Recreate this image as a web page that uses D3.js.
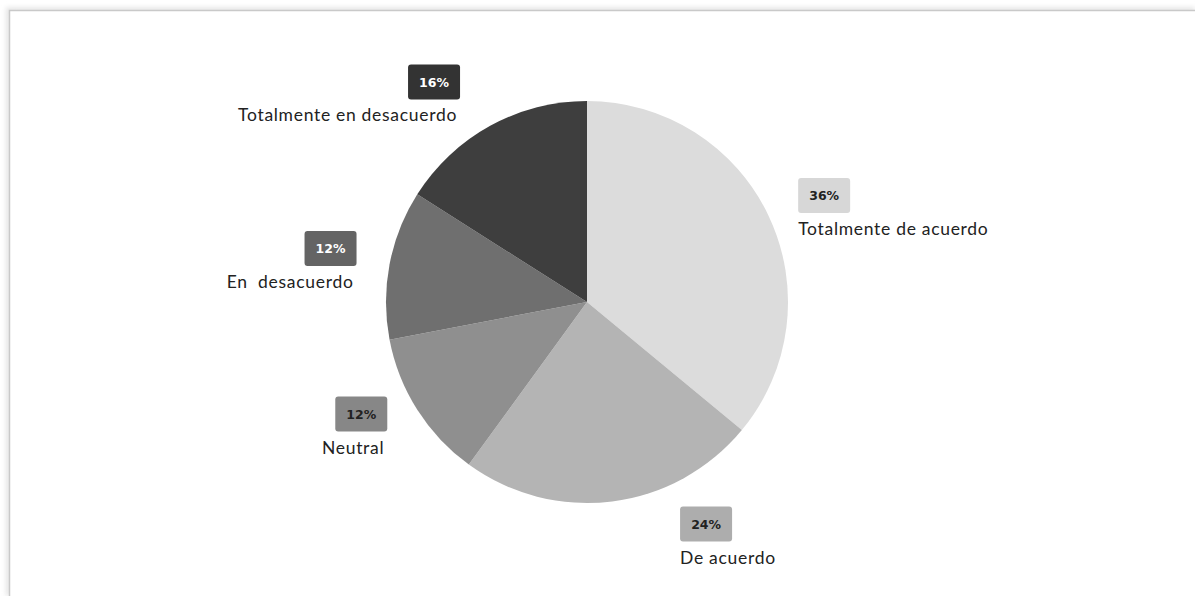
<!DOCTYPE html>
<html>
<head>
<meta charset="utf-8">
<script src="https://cdn.jsdelivr.net/npm/d3@7"></script>
<style>
  html, body { margin: 0; padding: 0; background: #ffffff; }
  svg { display: block; }
</style>
</head>
<body>
<svg id="chart" width="1195" height="596"></svg>
<script>
// Survey responses (percent of respondents)
const categories = ["Totalmente de acuerdo", "De acuerdo", "Neutral", "En  desacuerdo", "Totalmente en desacuerdo"];
const values = [36, 24, 12, 12, 16];
const valueLabels = ["36%", "24%", "12%", "12%", "16%"];

// Styling, kept apart from the data
const sliceColors = ["#dcdcdc", "#b4b4b4", "#8f8f8f", "#6f6f6f", "#3e3e3e"];
const badgeColors = ["#d7d7d7", "#adadad", "#878787", "#646464", "#333333"];
const badgeText   = ["#222222", "#222222", "#222222", "#ffffff", "#ffffff"];
// small angular nudges (degrees) that keep the callouts clear of each other
const labelNudge  = [1, -21, 6, 1, -6];
const labelRadius = [260, 252, 252, 262, 268];

const W = 1195, H = 596;
const cx = 587, cy = 302, R = 201;

const svg = d3.select("#chart");

// card frame with a soft shadow along the top and left edges
const defs = svg.append("defs");
const f = defs.append("filter").attr("id", "shadow")
  .attr("x", "-5%").attr("y", "-5%").attr("width", "110%").attr("height", "110%");
f.append("feGaussianBlur").attr("in", "SourceGraphic").attr("stdDeviation", 2.5);

svg.append("path")
  .attr("d", `M9,${H} L9,10.5 L${W},10.5`)
  .attr("fill", "none").attr("stroke", "#e4e4e4").attr("stroke-width", 6)
  .attr("filter", "url(#shadow)");
svg.append("rect")
  .attr("x", 10).attr("y", 11).attr("width", W).attr("height", H)
  .attr("fill", "#ffffff");
svg.append("path")
  .attr("d", `M9.5,${H} L9.5,10.5 L${W},10.5`)
  .attr("fill", "none").attr("stroke", "#c9c9c9").attr("stroke-width", 1.5);

const data = categories.map((c, i) => ({ name: c, value: values[i], label: valueLabels[i], i }));

const pie = d3.pie().value(d => d.value).sort(null).startAngle(0).endAngle(2 * Math.PI);
const arcs = pie(data);
const arc = d3.arc().innerRadius(0).outerRadius(R);

const g = svg.append("g").attr("transform", `translate(${cx},${cy})`);

g.selectAll("path.slice")
  .data(arcs)
  .join("path")
  .attr("class", "slice")
  .attr("d", arc)
  .attr("fill", d => sliceColors[d.data.i])
  .attr("stroke", "none");

// callouts: value badge with the category name beneath it
const bw = 52, bh = 35;
arcs.forEach(d => {
  const i = d.data.i;
  const mid = (d.startAngle + d.endAngle) / 2 + labelNudge[i] * Math.PI / 180;
  const r = labelRadius[i];
  const bx = Math.sin(mid) * r;
  const by = -Math.cos(mid) * r;
  const rightSide = Math.sin(mid) > 0;

  const cg = g.append("g").attr("transform", `translate(${bx},${by})`);
  cg.append("rect")
    .attr("x", -bw / 2).attr("y", -bh / 2)
    .attr("width", bw).attr("height", bh)
    .attr("rx", 3).attr("ry", 3)
    .attr("fill", badgeColors[i]);
  cg.append("text")
    .attr("x", 0).attr("y", 5)
    .attr("text-anchor", "middle")
    .attr("font-family", "DejaVu Sans, sans-serif")
    .attr("font-weight", "bold")
    .attr("font-size", 12.5)
    .attr("fill", badgeText[i])
    .text(d.data.label);
  cg.append("text")
    .attr("x", rightSide ? -bw / 2 : bw / 2 - 3)
    .attr("y", bh / 2 + 22)
    .attr("text-anchor", rightSide ? "start" : "end")
    .attr("font-family", "Lato, sans-serif")
    .attr("font-size", 17.5)
    .attr("letter-spacing", 0.7)
    .attr("fill", "#222222")
    .style("white-space", "pre")
    .text(d.data.name);
});
</script>
</body>
</html>
